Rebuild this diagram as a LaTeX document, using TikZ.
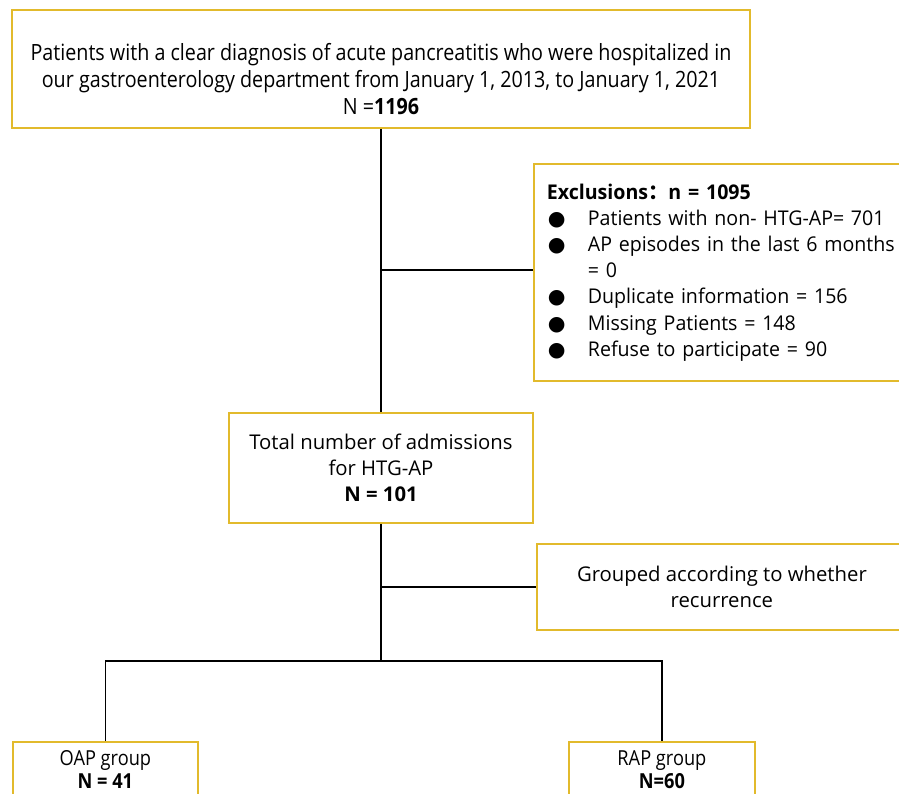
\documentclass[tikz,border=0pt]{standalone}
\usepackage{fontspec}
\setmainfont{Open Sans}
\newfontfamily\narrowfont[FakeStretch=0.88]{Open Sans}
\newfontfamily\exclfont[FakeStretch=0.965]{Open Sans}
\newfontfamily\symfont{DejaVu Sans}
\newfontfamily\cjkfont{Noto Sans CJK SC}
\definecolor{boxyellow}{RGB}{226,186,44}
\newcommand{\bulitem}{\makebox[41pt][l]{\hspace{1pt}{\symfont ●}}}
\begin{document}
\begin{tikzpicture}[x=1pt,y=-1pt,
  box/.style={draw=boxyellow, line width=1.8pt, inner sep=0pt},
  conn/.style={draw=black, line width=1.4pt},
  bigtext/.style={font=\fontsize{20.3}{26.2}\selectfont},
  excltext/.style={font=\exclfont\fontsize{20.3}{26.2}\selectfont},
  toptext/.style={font=\narrowfont\fontsize{22.4}{26.7}\selectfont},
  grouptext/.style={font=\narrowfont\fontsize{20.7}{23}\selectfont}]
\useasboundingbox (0,0) rectangle (899,794);
\clip (0,0) rectangle (899,794);
\fill[white] (0,0) rectangle (899,794);

\node[box, minimum width=738pt, minimum height=118pt,
  label={[toptext, align=center, yshift=-10pt]center:Patients with a clear diagnosis of acute pancreatitis who were hospitalized in\\
   our gastroenterology department from January 1, 2013, to January 1, 2021\\
   N =\textbf{1196}}] (top) at (381,69) {};

\node[box, excltext, anchor=north west, minimum height=217pt, inner xsep=13pt, text width=400pt, align=left] (excl) at (533,163)
  {\textbf{Exclusions{\cjkfont\bfseries ：}n = 1095}\\
   \bulitem Patients with non- HTG-AP= 701\\
   \bulitem AP episodes in the last 6 months\\
   \hspace*{41pt}= 0\\
   \bulitem Duplicate information = 156\\
   \bulitem Missing Patients = 148\\
   \bulitem Refuse to participate = 90};

\node[box, bigtext, minimum width=304pt, minimum height=110pt, align=center] (mid) at (381,468)
  {Total number of admissions\\ for HTG-AP\\ \textbf{N = 101}};

\node[box, bigtext, anchor=north west, minimum width=370pt, minimum height=86pt, align=center] (grp) at (536,543)
  {Grouped according to whether\\ recurrence};

\node[box, anchor=north west, minimum width=185pt, minimum height=70pt,
  label={[grouptext, anchor=north, align=center, yshift=-6pt]north:OAP group\\\textbf{N = 41}}] (oap) at (12,741) {};
\node[box, anchor=north west, minimum width=186pt, minimum height=70pt,
  label={[grouptext, anchor=north, align=center, yshift=-6pt]north:RAP group\\\textbf{N=60}}] (rap) at (568,741) {};

\coordinate (j1) at (381,270);
\coordinate (split) at (381,661);
\draw[conn] (top.south) -- (mid.north);
\draw[conn] (j1) -- (excl.west |- j1);
\draw[conn] (mid.south) -- (split);
\draw[conn] (grp.west -| split) -- (grp.west);
\draw[conn] (oap.north) -- (oap.north |- split) -- (rap.north |- split) -- (rap.north);
\end{tikzpicture}
\end{document}
